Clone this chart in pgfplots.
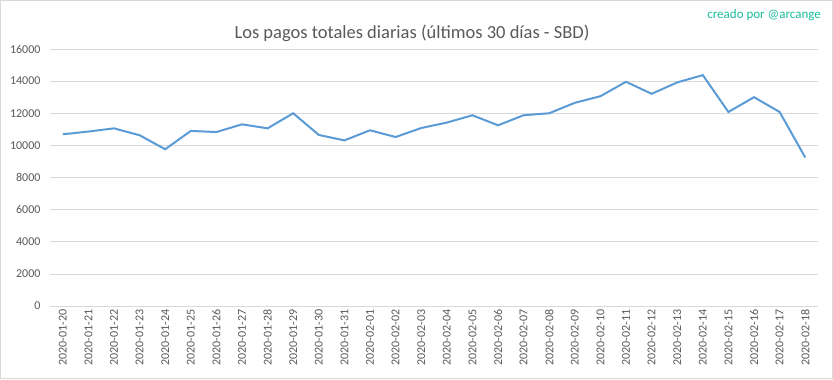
\documentclass[border=0pt]{standalone}
\usepackage{fontspec}
\setmainfont{Carlito}
\usepackage{pgfplots}
\pgfplotsset{compat=1.18}
\definecolor{linec}{RGB}{91,155,213}
\definecolor{tickc}{RGB}{89,89,89}
\definecolor{gridc}{RGB}{217,217,217}
\definecolor{wm}{RGB}{26,188,156}
\begin{document}
\begin{tikzpicture}[x=1bp,y=1bp]
\useasboundingbox (0,0) rectangle (833,379);
\draw[gridc] (0.5,0.5) rectangle (832.5,378.5);
\node[anchor=center, text=tickc, font=\fontsize{18.5bp}{22bp}\selectfont] at (412,346) {Los pagos totales diarias (últimos 30 días - SBD)};
\node[anchor=east, text=wm, font=\fontsize{13bp}{15bp}\selectfont, inner sep=0pt] at (821,364) {creado por @arcange};
\begin{axis}[
  at={(50bp,73bp)}, anchor=south west,
  scale only axis, width=768bp, height=257bp,
  xmin=-0.5, xmax=29.5, ymin=0, ymax=16000,
  ytick={0,2000,...,16000},
  xtick={0,...,29},
  xticklabels={2020-01-20,2020-01-21,2020-01-22,2020-01-23,2020-01-24,2020-01-25,2020-01-26,2020-01-27,2020-01-28,2020-01-29,2020-01-30,2020-01-31,2020-02-01,2020-02-02,2020-02-03,2020-02-04,2020-02-05,2020-02-06,2020-02-07,2020-02-08,2020-02-09,2020-02-10,2020-02-11,2020-02-12,2020-02-13,2020-02-14,2020-02-15,2020-02-16,2020-02-17,2020-02-18},
  x tick label style={rotate=90, anchor=east, font=\fontsize{12bp}{14bp}\selectfont, text=tickc},
  y tick label style={font=\fontsize{12bp}{14bp}\selectfont, text=tickc, xshift=-6bp},
  /pgf/number format/assume math mode=true,
  /pgf/number format/set thousands separator={},
  scaled y ticks=false,
  axis line style={draw=none},
  major tick length=0pt,
  ymajorgrids, grid style={gridc, line width=0.75bp},
  clip=false,
]
\addplot[linec, line width=2bp, mark=none] coordinates {
(0,10690) (1,10860) (2,11060) (3,10630) (4,9760) (5,10900) (6,10830) (7,11310) (8,11060) (9,12000)
(10,10650) (11,10310) (12,10940) (13,10520) (14,11080) (15,11420) (16,11875) (17,11250) (18,11875) (19,12000)
(20,12650) (21,13060) (22,13960) (23,13210) (24,13920) (25,14375) (26,12080) (27,13000) (28,12080) (29,9250)
};
\end{axis}
\end{tikzpicture}
\end{document}
